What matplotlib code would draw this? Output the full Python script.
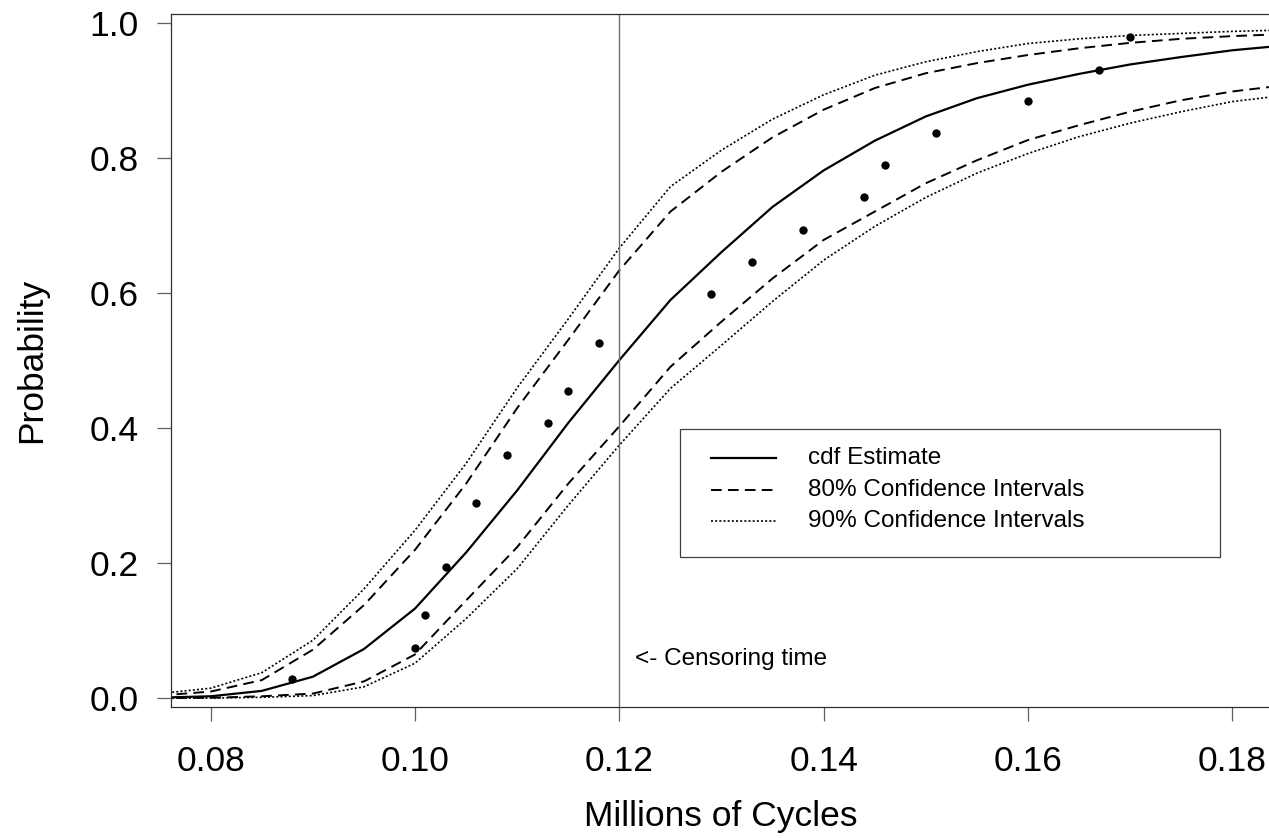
import numpy as np
import matplotlib
matplotlib.use('Agg')
import matplotlib.pyplot as plt
from matplotlib.patches import Rectangle
from matplotlib.lines import Line2D

plt.rcParams['font.family'] = ['Liberation Sans', 'DejaVu Sans']

# grid the fitted cdf and its pointwise bounds were evaluated on
cycles = [0.075, 0.080, 0.085, 0.090, 0.095, 0.100, 0.105, 0.110, 0.115, 0.120,
          0.125, 0.130, 0.135, 0.140, 0.145, 0.150, 0.155, 0.160, 0.165, 0.170,
          0.175, 0.180, 0.185]
cdf_est = [0.001, 0.003, 0.011, 0.032, 0.073, 0.133, 0.216, 0.308, 0.408, 0.501,
           0.590, 0.661, 0.728, 0.782, 0.826, 0.862, 0.889, 0.909, 0.925, 0.939,
           0.950, 0.960, 0.967]
upper80 = [0.004, 0.010, 0.027, 0.072, 0.138, 0.220, 0.318, 0.430, 0.531, 0.634,
           0.721, 0.780, 0.831, 0.872, 0.904, 0.926, 0.941, 0.953, 0.963, 0.971,
           0.977, 0.981, 0.984]
lower80 = [0.0002, 0.0008, 0.003, 0.007, 0.025, 0.065, 0.145, 0.224, 0.318, 0.403,
           0.491, 0.558, 0.622, 0.679, 0.721, 0.763, 0.797, 0.827, 0.849, 0.869,
           0.886, 0.899, 0.908]
upper90 = [0.007, 0.015, 0.038, 0.086, 0.162, 0.249, 0.348, 0.460, 0.562, 0.667,
           0.758, 0.812, 0.858, 0.894, 0.923, 0.943, 0.958, 0.970, 0.977, 0.982,
           0.985, 0.988, 0.990]
lower90 = [0.0001, 0.0003, 0.0015, 0.004, 0.017, 0.052, 0.118, 0.192, 0.286, 0.375,
           0.459, 0.523, 0.588, 0.649, 0.699, 0.742, 0.778, 0.807, 0.832, 0.852,
           0.869, 0.884, 0.893]

# observed failures with plotting positions
fail_times = [0.088, 0.100, 0.101, 0.103, 0.106, 0.109, 0.113, 0.115, 0.118,
              0.129, 0.133, 0.138, 0.144, 0.146, 0.151, 0.160, 0.167, 0.170]
fail_probs = [0.029, 0.075, 0.123, 0.195, 0.289, 0.360, 0.408, 0.455, 0.526,
              0.599, 0.646, 0.694, 0.743, 0.790, 0.837, 0.885, 0.931, 0.980]

censor_time = 0.12
xticks = [0.08, 0.10, 0.12, 0.14, 0.16, 0.18]
yticks = [0.0, 0.2, 0.4, 0.6, 0.8, 1.0]
legend_labels = ['cdf Estimate', '80% Confidence Intervals', '90% Confidence Intervals']

DASHED = (0, (5.5, 3.2))
DOTTED = (0, (1.2, 1.3))

fig = plt.figure(figsize=(12.69, 8.38), dpi=100)
ax = fig.add_axes([170.5 / 1269, 130.7 / 838, 1101 / 1269, 693 / 838])

ax.plot(cycles, cdf_est, color='black', lw=1.6, solid_joinstyle='miter')
ax.plot(cycles, upper80, color='black', lw=1.4, linestyle=DASHED)
ax.plot(cycles, lower80, color='black', lw=1.4, linestyle=DASHED)
ax.plot(cycles, upper90, color='black', lw=1.2, linestyle=DOTTED)
ax.plot(cycles, lower90, color='black', lw=1.2, linestyle=DOTTED)
ax.plot(fail_times, fail_probs, 'o', color='black', ms=6, mew=0)

ax.axvline(censor_time, color='#707070', lw=1.0)
ax.text(censor_time + 0.0015, 0.058, '<- Censoring time', fontsize=17.5,
        va='center', ha='left')

ax.set_xlim(0.07606, 0.18385)
ax.set_ylim(-0.01333, 1.01333)
ax.set_xticks(xticks)
ax.set_xticklabels(['%.2f' % t for t in xticks])
ax.set_yticks(yticks)
ax.set_yticklabels(['%.1f' % t for t in yticks])
ax.tick_params(direction='out', length=10, width=0.9, color='#606060',
               labelsize=25.5)
ax.tick_params(axis='x', pad=17)
ax.tick_params(axis='y', pad=13)
for side in ['left', 'bottom', 'top']:
    ax.spines[side].set_linewidth(0.9)
    ax.spines[side].set_color('#303030')
ax.spines['right'].set_visible(False)

ax.set_xlabel('Millions of Cycles', fontsize=25.5, labelpad=16)
ax.set_ylabel('Probability', fontsize=25.5, labelpad=30)

# boxed key in the lower right
box = Rectangle((0.463, 0.2168), 0.490, 0.1848, transform=ax.transAxes,
                fill=False, edgecolor='#404040', lw=0.9)
ax.add_patch(box)
rows = [0.3597, 0.3140, 0.2682]
styles = [('-', 1.6), (DASHED, 1.4), (DOTTED, 1.2)]
for yrow, (ls, lw), label in zip(rows, styles, legend_labels):
    ax.add_line(Line2D([0.4909, 0.5497], [yrow, yrow], transform=ax.transAxes,
                       color='black', linestyle=ls, lw=lw))
    ax.text(0.5788, yrow, label, transform=ax.transAxes, fontsize=17.5,
            va='center', ha='left')

fig.savefig('out.png', dpi=100)
